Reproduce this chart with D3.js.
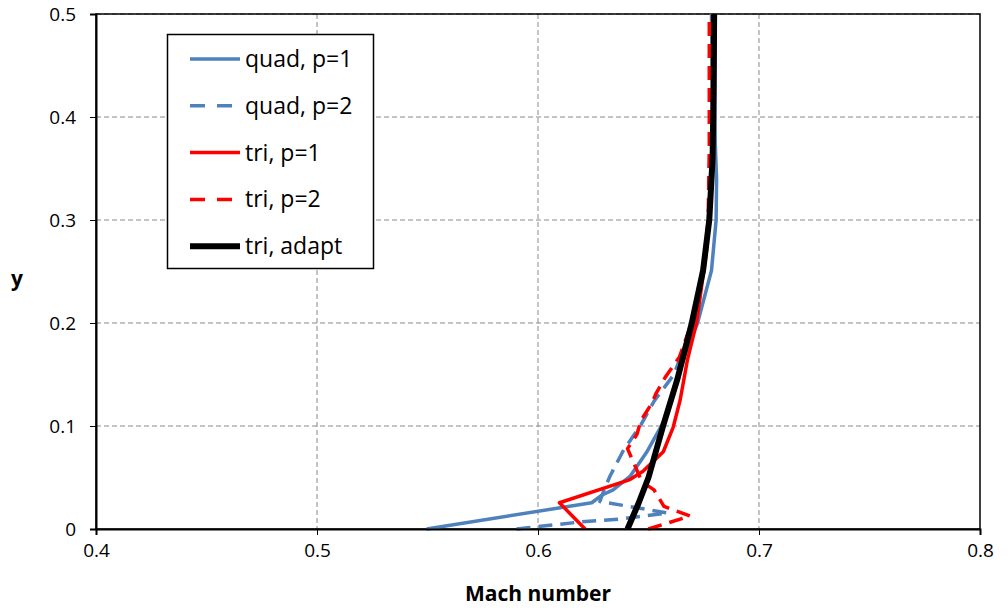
<!DOCTYPE html>
<html>
<head>
<meta charset="utf-8">
<script src="https://cdn.jsdelivr.net/npm/d3@7"></script>
<style>
body{margin:0;background:#fff;}
svg{display:block;font-family:"Open Sans",Lato,sans-serif;}
</style>
</head>
<body>
<svg id="chart" width="1008" height="612"></svg>
<script>
// values: [Mach, y]
var quadP1=[[0.5496,0],[0.6243,0.0255],[0.629,0.033],[0.634,0.038],[0.6416,0.051],[0.649,0.074],
    [0.6566,0.103],[0.6628,0.145],[0.6675,0.175],[0.6722,0.2],[0.6785,0.251],[0.6806,0.30],
    [0.6808,0.34],[0.6802,0.375],[0.680,0.43],[0.680,0.5]];
var quadP2=[[0.5903,0],[0.619,0.0068],[0.637,0.0097],[0.6588,0.0155],[0.628,0.0267],[0.6299,0.038],
    [0.6326,0.0515],[0.6385,0.0757],[0.6468,0.102],[0.6525,0.124],[0.6615,0.15],[0.6703,0.2],
    [0.6758,0.27],[0.6785,0.33],[0.679,0.4],[0.6785,0.5]];
var triP1=[[0.6213,0],[0.6097,0.0255],[0.6416,0.048],[0.6475,0.056],[0.6567,0.075],[0.6612,0.099],
    [0.6643,0.125],[0.6676,0.164],[0.6718,0.201],[0.6763,0.271],[0.6785,0.33],[0.679,0.4],[0.679,0.5]];
var triP2=[[0.6499,0],[0.6688,0.0126],[0.657,0.022],[0.6525,0.038],[0.647,0.046],[0.6405,0.078],
    [0.6448,0.092],[0.6465,0.105],[0.6515,0.122],[0.6535,0.132],[0.6575,0.147],[0.664,0.167],
    [0.6695,0.2],[0.6748,0.25],[0.677,0.3],[0.6775,0.37],[0.6775,0.5]];
var triAdapt=[[0.6405,0],[0.6455,0.025],[0.650,0.05],[0.6566,0.1],[0.663,0.145],[0.6696,0.2],
    [0.6747,0.251],[0.6775,0.3],[0.679,0.36],[0.6795,0.43],[0.6797,0.5]];

var xTicks=[0.4,0.5,0.6,0.7,0.8];
var yTicks=[0,0.1,0.2,0.3,0.4,0.5];

var series=[
    {name:"quad, p=1",data:quadP1,color:"#4f81bd",dash:null,width:3.5},
    {name:"quad, p=2",data:quadP2,color:"#4f81bd",dash:"14,8",width:3.5},
    {name:"tri, p=1",data:triP1,color:"#ff0000",dash:null,width:3.5},
    {name:"tri, p=2",data:triP2,color:"#ff0000",dash:"14,8",width:3.5},
    {name:"tri, adapt",data:triAdapt,color:"#000000",dash:null,width:6}
];

var svg=d3.select("#chart");
var pLeft=96,pRight=980,pTop=14,pBottom=529;

var x=d3.scaleLinear().domain([0.4,0.8]).range([pLeft,pRight]);
var y=d3.scaleLinear().domain([0,0.5]).range([pBottom,pTop]);

// grid
var grid=svg.append("g");
grid.selectAll(".gx").data(xTicks.slice(1,-1)).enter().append("line")
    .attr("x1",function(d){return x(d);}).attr("x2",function(d){return x(d);})
    .attr("y1",pTop).attr("y2",pBottom)
    .attr("stroke","#888").attr("stroke-width",1).attr("stroke-dasharray","5,3");
grid.selectAll(".gy").data(yTicks.slice(1)).enter().append("line")
    .attr("y1",function(d){return y(d);}).attr("y2",function(d){return y(d);})
    .attr("x1",pLeft).attr("x2",pRight)
    .attr("stroke","#888").attr("stroke-width",1).attr("stroke-dasharray","5,3");

// plot frame
svg.append("rect").attr("x",pLeft).attr("y",pTop).attr("width",pRight-pLeft).attr("height",pBottom-pTop)
    .attr("fill","none").attr("stroke","#000").attr("stroke-width",1.5);

// series
var line=d3.line().x(function(d){return x(d[0]);}).y(function(d){return y(d[1]);});
var plot=svg.append("g");
plot.selectAll("path").data(series).enter().append("path")
    .attr("d",function(s){return line(s.data);})
    .attr("fill","none")
    .attr("stroke",function(s){return s.color;})
    .attr("stroke-width",function(s){return s.width;})
    .attr("stroke-dasharray",function(s){return s.dash;})
    .attr("stroke-linejoin","round");

// axes
var xAxis=d3.axisBottom(x).tickValues(xTicks).tickSize(6).tickPadding(9)
    .tickFormat(function(d){return d3.format(".1f")(d);});
var gx=svg.append("g").attr("transform","translate(0,"+pBottom+")").call(xAxis);
var yAxis=d3.axisLeft(y).tickValues(yTicks).tickSize(6).tickPadding(14)
    .tickFormat(function(d){return d===0?"0":d3.format(".1f")(d);});
var gy=svg.append("g").attr("transform","translate("+pLeft+",0)").call(yAxis);
[gx,gy].forEach(function(g){
    g.select(".domain").attr("stroke","#000").attr("stroke-width",2);
    g.selectAll(".tick line").attr("stroke","#000").attr("stroke-width",1);
    g.selectAll("text").attr("font-size",19).attr("fill","#000").attr("font-family","'Open Sans',Lato,sans-serif");
});

svg.append("text").attr("x",(pLeft+pRight)/2).attr("y",601).attr("text-anchor","middle")
    .attr("font-size",21).attr("font-weight","bold").text("Mach number");
svg.append("text").attr("x",17).attr("y",286).attr("text-anchor","middle")
    .attr("font-size",21).attr("font-weight","bold").text("y");

// legend
var lg=svg.append("g");
lg.append("rect").attr("x",167.5).attr("y",34.5).attr("width",206).attr("height",234)
    .attr("fill","#fff").attr("stroke","#000").attr("stroke-width",1.5);
var rows=lg.selectAll("g").data(series).enter().append("g")
    .attr("transform",function(d,i){return "translate(0,"+(59+i*46.8)+")";});
rows.append("line").attr("x1",190).attr("x2",240).attr("y1",0).attr("y2",0)
    .attr("stroke",function(s){return s.color;})
    .attr("stroke-width",function(s){return s.width;})
    .attr("stroke-dasharray",function(s){return s.dash?"15,12":null;});
rows.append("text").attr("x",245).attr("y",8).attr("font-size",23).text(function(s){return s.name;});
</script>
</body>
</html>
